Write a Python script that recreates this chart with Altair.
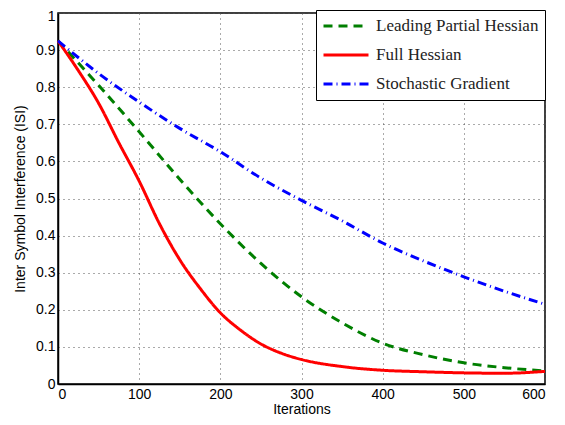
import altair as alt
import pandas as pd

iters_red = [0, 25, 50, 75, 100, 125, 150, 175, 200, 225, 250, 275, 300, 350, 400, 450, 500, 550, 600]
full_hessian = [0.925, 0.845, 0.757, 0.650, 0.547, 0.432, 0.335, 0.258, 0.192, 0.145, 0.108, 0.083, 0.066, 0.047, 0.037, 0.033, 0.030, 0.029, 0.034]

iters = [0, 50, 100, 150, 200, 250, 300, 350, 400, 450, 500, 550, 600]
leading_partial = [0.925, 0.805, 0.680, 0.552, 0.432, 0.325, 0.235, 0.165, 0.110, 0.079, 0.057, 0.044, 0.035]
stochastic = [0.925, 0.837, 0.760, 0.689, 0.626, 0.555, 0.495, 0.440, 0.380, 0.332, 0.289, 0.250, 0.215]

names = ["Leading Partial Hessian", "Full Hessian", "Stochastic Gradient"]
colors = ["#007F00", "#FF0000", "#0000FF"]
dashes = [[9, 6], [1, 0], [9, 4, 1, 4]]

rows = []
for x, y in zip(iters, leading_partial):
    rows.append({"it": x, "isi": y, "method": names[0]})
for x, y in zip(iters_red, full_hessian):
    rows.append({"it": x, "isi": y, "method": names[1]})
for x, y in zip(iters, stochastic):
    rows.append({"it": x, "isi": y, "method": names[2]})
df = pd.DataFrame(rows)

chart = alt.Chart(df).mark_line(strokeWidth=3, interpolate="monotone").encode(
    x=alt.X("it:Q", title="Iterations", scale=alt.Scale(domain=[0, 600], nice=False),
            axis=alt.Axis(values=[0, 100, 200, 300, 400, 500, 600])),
    y=alt.Y("isi:Q", title="Inter Symbol Interference (ISI)", scale=alt.Scale(domain=[0, 1], nice=False),
            axis=alt.Axis(values=[0, 0.1, 0.2, 0.3, 0.4, 0.5, 0.6, 0.7, 0.8, 0.9, 1], format=".1~f",
                          labelOffset=alt.condition("datum.value == 1", alt.value(3), alt.value(0)))),
    color=alt.Color("method:N", sort=names,
                    scale=alt.Scale(domain=names, range=colors),
                    legend=alt.Legend(title=None, orient="none", legendX=258, legendY=-3,
                                      symbolType="stroke", symbolSize=2025, symbolStrokeWidth=3,
                                      clipHeight=20,
                                      labelFont="Liberation Serif", labelFontSize=17, labelColor="#222",
                                      labelLimit=300, fillColor="white", strokeColor="black",
                                      padding=6, rowPadding=9, labelOffset=6)),
    strokeDash=alt.StrokeDash("method:N", sort=names,
                              scale=alt.Scale(domain=names, range=dashes), legend=None),
).properties(
    width=487, height=371, autosize="none",
    padding={"left": 50, "top": 5, "right": 12, "bottom": 33},
).configure_view(
    stroke="black", strokeWidth=1.5
).configure_axis(
    labelFont="Liberation Sans", labelFontSize=14, labelColor="black",
    titleFont="Liberation Sans", titleFontSize=14, titleFontWeight="normal", titleColor="black",
    grid=True, gridColor="#555", gridDash=[1, 4], gridWidth=1,
    domainColor="black", domainWidth=1.5, ticks=False, labelPadding=3,
).configure_axisY(
    titlePadding=8
).configure_axisX(
    titlePadding=1
)

chart.save("out.html", embed_options={"renderer": "svg", "actions": False})
